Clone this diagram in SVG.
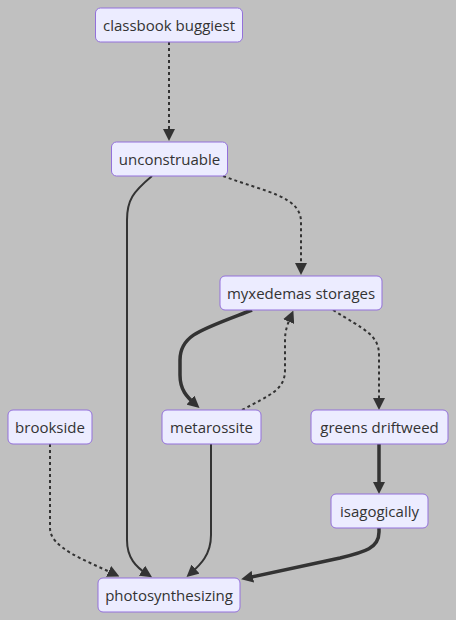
<svg xmlns="http://www.w3.org/2000/svg" width="456" height="620" viewBox="0 0 456 620">
<style>
.node rect{fill:#ECECFF;stroke:#9370DB;stroke-width:1}
.node text{font-family:"Open Sans","Noto Sans","DejaVu Sans",sans-serif;font-size:15px;fill:#333333;text-anchor:middle}
.e{fill:none;stroke:#333333;marker-end:url(#arrow)}
.thin{stroke-width:2}
.thick{stroke-width:3.5}
.dot{stroke-width:2;stroke-dasharray:3 3}
</style>
<defs>
<marker id="arrow" viewBox="0 0 10 10" refX="5" refY="5" markerWidth="12" markerHeight="12" markerUnits="userSpaceOnUse" orient="auto">
<path d="M0,0 L10,5 L0,10 z" fill="#333333"/>
</marker>
</defs>
<rect width="456" height="620" fill="#C0C0C0"/>
<g id="connectors">
<path class="e dot" d="M169,42 L169,135"/>
<path class="e dot" d="M223,176 C265,192 301,196 301,222 L301,269"/>
<path class="e thin" d="M152,176 C133,192 127,200 127,220 L127,540 C127,558 136,567 147,574"/>
<path class="e thick" d="M252,310 C200,330 180,335 180,360 L180,375 C180,390 187,397 195,404"/>
<path class="e dot" d="M242,410 C270,395 285,390 285,370 L285,340 C285,330 288,323 291,316"/>
<path class="e dot" d="M333,310 C365,330 379,335 379,355 L379,404"/>
<path class="e dot" d="M50,444 L50,528 C50,548 85,560 114,574"/>
<path class="e thin" d="M211,444 L211,535 C211,555 200,565 191,573"/>
<path class="e thick" d="M379,444 L379,488"/>
<path class="e thick" d="M379,528 L379,532 C379,548 365,552 340,558 L247,578"/>
</g>
<g id="classbook_buggiest" class="node"><rect x="95.5" y="8" width="147" height="34" rx="5"/><text x="169" y="30.5">classbook buggiest</text></g>
<g id="unconstruable" class="node"><rect x="111.5" y="142" width="116" height="34" rx="5"/><text x="169.5" y="164.5">unconstruable</text></g>
<g id="myxedemas_storages" class="node"><rect x="220" y="276" width="162" height="34" rx="5"/><text x="301" y="298.5">myxedemas storages</text></g>
<g id="brookside" class="node"><rect x="8" y="410" width="84" height="34" rx="5"/><text x="50" y="432.5">brookside</text></g>
<g id="metarossite" class="node"><rect x="162" y="410" width="99" height="34" rx="5"/><text x="211.5" y="432.5">metarossite</text></g>
<g id="greens_driftweed" class="node"><rect x="311" y="410" width="137" height="34" rx="5"/><text x="379.5" y="432.5">greens driftweed</text></g>
<g id="isagogically" class="node"><rect x="331" y="494" width="97" height="34" rx="5"/><text x="379.5" y="516.5">isagogically</text></g>
<g id="photosynthesizing" class="node"><rect x="98" y="578" width="142" height="34" rx="5"/><text x="169" y="600.5">photosynthesizing</text></g>
</svg>
